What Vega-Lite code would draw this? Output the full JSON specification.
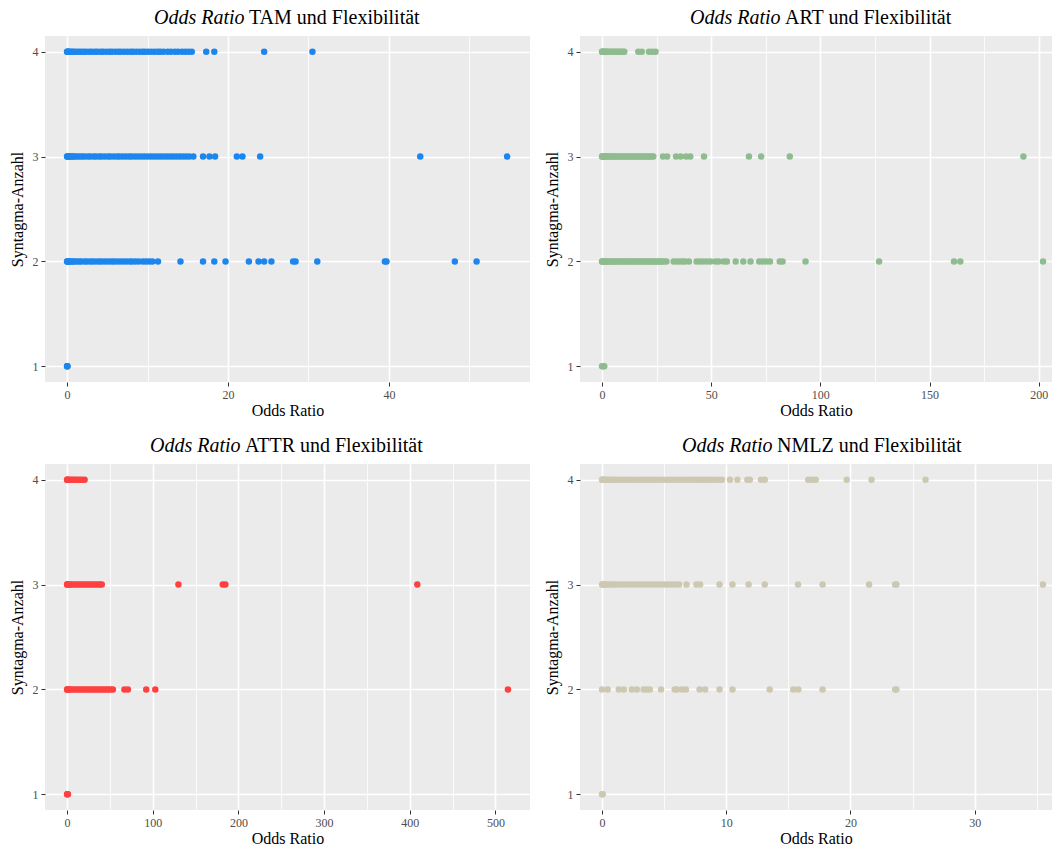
{
  "$schema": "https://vega.github.io/schema/vega-lite/v6.json",
  "background": "white",
  "padding": {"left": 9, "top": 8, "right": 0, "bottom": 0},
  "columns": 2,
  "spacing": {"row": 18, "column": 14},
  "config": {
    "font": "Liberation Serif",
    "view": {"fill": "#EBEBEB", "stroke": null},
    "axis": {
      "domain": false,
      "gridColor": "#FFFFFF",
      "tickColor": "#333333",
      "tickSize": 4,
      "labelColor": "#4D4D4D",
      "labelFont": "Liberation Serif",
      "labelFontSize": 12,
      "labelPadding": 3,
      "labelOverlap": false,
      "labelFlush": false,
      "titleFont": "Liberation Serif",
      "titleFontSize": 16,
      "titleFontWeight": "normal",
      "titleColor": "#000000",
      "titlePadding": 2
    },
    "title": {
      "font": "Liberation Serif",
      "fontSize": 20,
      "fontWeight": "normal",
      "fontStyle": "italic",
      "color": "#000000",
      "subtitleFont": "Liberation Serif",
      "subtitleFontSize": 20,
      "subtitleFontStyle": "normal",
      "subtitleFontWeight": "normal",
      "subtitleColor": "#000000",
      "subtitlePadding": -20,
      "anchor": "start",
      "frame": "group",
      "offset": 8
    }
  },
  "datasets": {
    "tam": [
      {"x":0,"y":4},{"x":0.05,"y":4},{"x":0.1,"y":4},{"x":0.2,"y":4},{"x":0.35,"y":4},{"x":0.5,"y":4},{"x":0.7,"y":4},{"x":0.9,"y":4},{"x":1.2,"y":4},{"x":1.5,"y":4},{"x":1.8,"y":4},{"x":2.1,"y":4},{"x":2.4,"y":4},{"x":2.8,"y":4},{"x":3.1,"y":4},{"x":3.5,"y":4},{"x":3.8,"y":4},{"x":4.2,"y":4},{"x":4.5,"y":4},{"x":4.9,"y":4},{"x":5.3,"y":4},{"x":5.6,"y":4},{"x":6.0,"y":4},{"x":6.4,"y":4},{"x":6.7,"y":4},{"x":7.1,"y":4},{"x":7.5,"y":4},{"x":7.9,"y":4},{"x":8.2,"y":4},{"x":8.6,"y":4},{"x":9.0,"y":4},{"x":9.4,"y":4},{"x":9.7,"y":4},{"x":10.1,"y":4},{"x":10.5,"y":4},{"x":10.9,"y":4},{"x":11.3,"y":4},{"x":11.6,"y":4},{"x":12.0,"y":4},{"x":12.5,"y":4},{"x":12.9,"y":4},{"x":13.4,"y":4},{"x":13.8,"y":4},{"x":14.3,"y":4},{"x":14.7,"y":4},{"x":15.1,"y":4},{"x":15.5,"y":4},{"x":17.3,"y":4},{"x":18.3,"y":4},{"x":24.5,"y":4},{"x":30.5,"y":4},
      {"x":0,"y":3},{"x":0.05,"y":3},{"x":0.1,"y":3},{"x":0.2,"y":3},{"x":0.3,"y":3},{"x":0.45,"y":3},{"x":0.6,"y":3},{"x":0.8,"y":3},{"x":1.0,"y":3},{"x":1.3,"y":3},{"x":1.6,"y":3},{"x":1.9,"y":3},{"x":2.2,"y":3},{"x":2.6,"y":3},{"x":2.9,"y":3},{"x":3.3,"y":3},{"x":3.6,"y":3},{"x":4.0,"y":3},{"x":4.3,"y":3},{"x":4.7,"y":3},{"x":5.1,"y":3},{"x":5.4,"y":3},{"x":5.8,"y":3},{"x":6.2,"y":3},{"x":6.5,"y":3},{"x":6.9,"y":3},{"x":7.3,"y":3},{"x":7.7,"y":3},{"x":8.0,"y":3},{"x":8.4,"y":3},{"x":8.8,"y":3},{"x":9.2,"y":3},{"x":9.6,"y":3},{"x":10.0,"y":3},{"x":10.4,"y":3},{"x":10.8,"y":3},{"x":11.2,"y":3},{"x":11.6,"y":3},{"x":12.0,"y":3},{"x":12.4,"y":3},{"x":12.8,"y":3},{"x":13.2,"y":3},{"x":13.6,"y":3},{"x":14.0,"y":3},{"x":14.4,"y":3},{"x":14.8,"y":3},{"x":15.2,"y":3},{"x":15.7,"y":3},{"x":16.9,"y":3},{"x":17.7,"y":3},{"x":18.4,"y":3},{"x":21.1,"y":3},{"x":21.8,"y":3},{"x":24.0,"y":3},{"x":43.9,"y":3},{"x":54.7,"y":3},
      {"x":0,"y":2},{"x":0.05,"y":2},{"x":0.1,"y":2},{"x":0.2,"y":2},{"x":0.3,"y":2},{"x":0.5,"y":2},{"x":0.7,"y":2},{"x":0.9,"y":2},{"x":1.2,"y":2},{"x":1.5,"y":2},{"x":1.8,"y":2},{"x":2.2,"y":2},{"x":2.5,"y":2},{"x":2.9,"y":2},{"x":3.2,"y":2},{"x":3.6,"y":2},{"x":4.0,"y":2},{"x":4.3,"y":2},{"x":4.7,"y":2},{"x":5.1,"y":2},{"x":5.5,"y":2},{"x":5.8,"y":2},{"x":6.2,"y":2},{"x":6.6,"y":2},{"x":7.0,"y":2},{"x":7.4,"y":2},{"x":7.8,"y":2},{"x":8.1,"y":2},{"x":8.5,"y":2},{"x":8.9,"y":2},{"x":9.4,"y":2},{"x":9.8,"y":2},{"x":10.2,"y":2},{"x":10.6,"y":2},{"x":11.3,"y":2},{"x":14.1,"y":2},{"x":16.9,"y":2},{"x":18.3,"y":2},{"x":19.7,"y":2},{"x":22.6,"y":2},{"x":23.8,"y":2},{"x":24.5,"y":2},{"x":25.4,"y":2},{"x":28.1,"y":2},{"x":28.4,"y":2},{"x":31.1,"y":2},{"x":39.5,"y":2},{"x":39.7,"y":2},{"x":48.2,"y":2},{"x":50.9,"y":2},
      {"x":0,"y":1},{"x":0.02,"y":1},{"x":0.05,"y":1}
    ],
    "art": [
      {"x":0,"y":4},{"x":0.1,"y":4},{"x":0.3,"y":4},{"x":0.6,"y":4},{"x":1.0,"y":4},{"x":1.5,"y":4},{"x":2.0,"y":4},{"x":2.6,"y":4},{"x":3.2,"y":4},{"x":3.8,"y":4},{"x":4.5,"y":4},{"x":5.2,"y":4},{"x":5.9,"y":4},{"x":6.6,"y":4},{"x":7.4,"y":4},{"x":8.2,"y":4},{"x":9.0,"y":4},{"x":9.7,"y":4},{"x":10.2,"y":4},{"x":16.6,"y":4},{"x":18.2,"y":4},{"x":21.5,"y":4},{"x":23.0,"y":4},{"x":24.5,"y":4},
      {"x":0,"y":3},{"x":0.1,"y":3},{"x":0.3,"y":3},{"x":0.6,"y":3},{"x":1.0,"y":3},{"x":1.5,"y":3},{"x":2.0,"y":3},{"x":2.6,"y":3},{"x":3.2,"y":3},{"x":3.9,"y":3},{"x":4.6,"y":3},{"x":5.3,"y":3},{"x":6.0,"y":3},{"x":6.8,"y":3},{"x":7.6,"y":3},{"x":8.4,"y":3},{"x":9.2,"y":3},{"x":10.0,"y":3},{"x":10.8,"y":3},{"x":11.6,"y":3},{"x":12.4,"y":3},{"x":13.2,"y":3},{"x":14.0,"y":3},{"x":14.8,"y":3},{"x":15.6,"y":3},{"x":16.4,"y":3},{"x":17.2,"y":3},{"x":18.0,"y":3},{"x":18.8,"y":3},{"x":19.6,"y":3},{"x":20.4,"y":3},{"x":21.2,"y":3},{"x":22.0,"y":3},{"x":22.8,"y":3},{"x":23.5,"y":3},{"x":27.9,"y":3},{"x":29.8,"y":3},{"x":33.9,"y":3},{"x":36.0,"y":3},{"x":38.5,"y":3},{"x":40.4,"y":3},{"x":46.7,"y":3},{"x":67.3,"y":3},{"x":72.9,"y":3},{"x":86.0,"y":3},{"x":193.0,"y":3},
      {"x":0,"y":2},{"x":0.1,"y":2},{"x":0.3,"y":2},{"x":0.6,"y":2},{"x":1.0,"y":2},{"x":1.5,"y":2},{"x":2.0,"y":2},{"x":2.6,"y":2},{"x":3.2,"y":2},{"x":3.9,"y":2},{"x":4.6,"y":2},{"x":5.3,"y":2},{"x":6.0,"y":2},{"x":6.8,"y":2},{"x":7.6,"y":2},{"x":8.4,"y":2},{"x":9.2,"y":2},{"x":10.0,"y":2},{"x":10.8,"y":2},{"x":11.6,"y":2},{"x":12.4,"y":2},{"x":13.2,"y":2},{"x":14.0,"y":2},{"x":14.8,"y":2},{"x":15.6,"y":2},{"x":16.4,"y":2},{"x":17.2,"y":2},{"x":18.0,"y":2},{"x":18.8,"y":2},{"x":19.6,"y":2},{"x":20.4,"y":2},{"x":21.2,"y":2},{"x":22.0,"y":2},{"x":22.8,"y":2},{"x":23.6,"y":2},{"x":24.4,"y":2},{"x":25.2,"y":2},{"x":26.0,"y":2},{"x":26.8,"y":2},{"x":27.6,"y":2},{"x":28.4,"y":2},{"x":29.5,"y":2},{"x":32.8,"y":2},{"x":34.2,"y":2},{"x":35.6,"y":2},{"x":37.0,"y":2},{"x":38.0,"y":2},{"x":39.8,"y":2},{"x":43.3,"y":2},{"x":44.8,"y":2},{"x":46.4,"y":2},{"x":48.0,"y":2},{"x":49.7,"y":2},{"x":52.0,"y":2},{"x":53.4,"y":2},{"x":55.7,"y":2},{"x":57.2,"y":2},{"x":61.2,"y":2},{"x":64.7,"y":2},{"x":68.0,"y":2},{"x":72.0,"y":2},{"x":73.6,"y":2},{"x":75.2,"y":2},{"x":76.9,"y":2},{"x":81.4,"y":2},{"x":82.7,"y":2},{"x":93.2,"y":2},{"x":126.9,"y":2},{"x":161.2,"y":2},{"x":164.1,"y":2},{"x":202.0,"y":2},
      {"x":0,"y":1},{"x":0.5,"y":1},{"x":1.0,"y":1}
    ],
    "attr": [
      {"x":0,"y":4},{"x":0.3,"y":4},{"x":1,"y":4},{"x":2,"y":4},{"x":4,"y":4},{"x":6,"y":4},{"x":8,"y":4},{"x":10,"y":4},{"x":12.5,"y":4},{"x":15,"y":4},{"x":17.5,"y":4},{"x":20.5,"y":4},
      {"x":0,"y":3},{"x":0.3,"y":3},{"x":1,"y":3},{"x":2,"y":3},{"x":4,"y":3},{"x":6,"y":3},{"x":8.5,"y":3},{"x":11,"y":3},{"x":13.5,"y":3},{"x":16,"y":3},{"x":18.5,"y":3},{"x":21,"y":3},{"x":23.5,"y":3},{"x":26,"y":3},{"x":28.5,"y":3},{"x":31,"y":3},{"x":33.5,"y":3},{"x":36,"y":3},{"x":38.5,"y":3},{"x":40.5,"y":3},{"x":130.0,"y":3},{"x":181.7,"y":3},{"x":184.8,"y":3},{"x":408.8,"y":3},
      {"x":0,"y":2},{"x":0.3,"y":2},{"x":1,"y":2},{"x":2,"y":2},{"x":4,"y":2},{"x":6,"y":2},{"x":8.5,"y":2},{"x":11,"y":2},{"x":13.5,"y":2},{"x":16,"y":2},{"x":18.5,"y":2},{"x":21,"y":2},{"x":23.5,"y":2},{"x":26,"y":2},{"x":28.5,"y":2},{"x":31,"y":2},{"x":33.5,"y":2},{"x":36,"y":2},{"x":38.5,"y":2},{"x":41,"y":2},{"x":43.5,"y":2},{"x":46,"y":2},{"x":48.5,"y":2},{"x":51,"y":2},{"x":53.5,"y":2},{"x":67.0,"y":2},{"x":71.0,"y":2},{"x":92.4,"y":2},{"x":103.0,"y":2},{"x":514.6,"y":2},
      {"x":0,"y":1},{"x":0.5,"y":1},{"x":1,"y":1}
    ],
    "nmlz": [
      {"x":0,"y":4},{"x":0.02,"y":4},{"x":0.05,"y":4},{"x":0.1,"y":4},{"x":0.2,"y":4},{"x":0.3,"y":4},{"x":0.45,"y":4},{"x":0.6,"y":4},{"x":0.8,"y":4},{"x":1.0,"y":4},{"x":1.25,"y":4},{"x":1.5,"y":4},{"x":1.75,"y":4},{"x":2.0,"y":4},{"x":2.25,"y":4},{"x":2.5,"y":4},{"x":2.8,"y":4},{"x":3.1,"y":4},{"x":3.4,"y":4},{"x":3.7,"y":4},{"x":4.0,"y":4},{"x":4.3,"y":4},{"x":4.6,"y":4},{"x":4.9,"y":4},{"x":5.2,"y":4},{"x":5.5,"y":4},{"x":5.8,"y":4},{"x":6.1,"y":4},{"x":6.4,"y":4},{"x":6.7,"y":4},{"x":7.0,"y":4},{"x":7.3,"y":4},{"x":7.6,"y":4},{"x":7.9,"y":4},{"x":8.2,"y":4},{"x":8.5,"y":4},{"x":8.8,"y":4},{"x":9.1,"y":4},{"x":9.4,"y":4},{"x":9.65,"y":4},{"x":10.3,"y":4},{"x":10.9,"y":4},{"x":11.7,"y":4},{"x":11.9,"y":4},{"x":12.8,"y":4},{"x":13.1,"y":4},{"x":16.6,"y":4},{"x":16.9,"y":4},{"x":17.2,"y":4},{"x":19.7,"y":4},{"x":21.7,"y":4},{"x":26.05,"y":4},
      {"x":0,"y":3},{"x":0.05,"y":3},{"x":0.1,"y":3},{"x":0.2,"y":3},{"x":0.35,"y":3},{"x":0.5,"y":3},{"x":0.7,"y":3},{"x":0.9,"y":3},{"x":1.15,"y":3},{"x":1.4,"y":3},{"x":1.7,"y":3},{"x":2.0,"y":3},{"x":2.3,"y":3},{"x":2.6,"y":3},{"x":2.9,"y":3},{"x":3.2,"y":3},{"x":3.5,"y":3},{"x":3.8,"y":3},{"x":4.1,"y":3},{"x":4.4,"y":3},{"x":4.7,"y":3},{"x":5.0,"y":3},{"x":5.3,"y":3},{"x":5.6,"y":3},{"x":5.9,"y":3},{"x":6.2,"y":3},{"x":6.8,"y":3},{"x":7.6,"y":3},{"x":7.9,"y":3},{"x":9.46,"y":3},{"x":10.5,"y":3},{"x":11.8,"y":3},{"x":13.1,"y":3},{"x":15.78,"y":3},{"x":17.76,"y":3},{"x":21.5,"y":3},{"x":23.6,"y":3},{"x":23.7,"y":3},{"x":35.5,"y":3},
      {"x":0,"y":2},{"x":0.45,"y":2},{"x":1.35,"y":2},{"x":1.75,"y":2},{"x":2.4,"y":2},{"x":2.8,"y":2},{"x":3.35,"y":2},{"x":3.6,"y":2},{"x":3.85,"y":2},{"x":4.75,"y":2},{"x":5.85,"y":2},{"x":6.05,"y":2},{"x":6.45,"y":2},{"x":6.75,"y":2},{"x":7.85,"y":2},{"x":8.3,"y":2},{"x":9.46,"y":2},{"x":10.5,"y":2},{"x":13.5,"y":2},{"x":15.4,"y":2},{"x":15.8,"y":2},{"x":17.76,"y":2},{"x":23.6,"y":2},{"x":23.7,"y":2},
      {"x":0,"y":1},{"x":0.05,"y":1}
    ]
  },
  "concat": [
    {
      "width": 485, "height": 346,
      "title": {"text": "Odds Ratio", "subtitle": "\u200b\u00a0\u00a0\u00a0\u00a0\u00a0\u00a0\u00a0\u00a0\u00a0\u00a0\u00a0\u00a0\u00a0\u00a0\u00a0\u00a0\u00a0\u00a0\u00a0TAM und Flexibilität", "dx": 109},
      "data": {"name": "tam"},
      "mark": {"type": "circle", "size": 42, "opacity": 1, "color": "#1C86EE"},
      "encoding": {
        "x": {"field": "x", "type": "quantitative", "scale": {"domain": [-2.74, 57.54], "nice": false, "zero": false},
          "axis": {"title": "Odds Ratio", "values": [0, 10, 20, 30, 40, 50], "labelExpr": "datum.value % 20 === 0 ? datum.label : ''",
            "gridWidth": {"condition": {"test": "datum.value % 20 === 0", "value": 1.6}, "value": 0.8},
            "tickOpacity": {"condition": {"test": "datum.value % 20 === 0", "value": 1}, "value": 0}}},
        "y": {"field": "y", "type": "quantitative", "scale": {"domain": [0.85, 4.15], "nice": false, "zero": false},
          "axis": {"title": "Syntagma-Anzahl", "values": [1, 1.5, 2, 2.5, 3, 3.5, 4], "format": "d", "labelExpr": "datum.value % 1 === 0 ? datum.label : ''",
            "gridWidth": {"condition": {"test": "datum.value % 1 === 0", "value": 1.6}, "value": 0.8},
            "tickOpacity": {"condition": {"test": "datum.value % 1 === 0", "value": 1}, "value": 0}, "titlePadding": 7}}
      }
    },
    {
      "width": 472, "height": 346,
      "title": {"text": "Odds Ratio", "subtitle": "\u200b\u00a0\u00a0\u00a0\u00a0\u00a0\u00a0\u00a0\u00a0\u00a0\u00a0\u00a0\u00a0\u00a0\u00a0\u00a0\u00a0\u00a0\u00a0\u00a0ART und Flexibilität", "dx": 110},
      "data": {"name": "art"},
      "mark": {"type": "circle", "size": 42, "opacity": 1, "color": "#8FBC8F"},
      "encoding": {
        "x": {"field": "x", "type": "quantitative", "scale": {"domain": [-10.1, 206.1], "nice": false, "zero": false},
          "axis": {"title": "Odds Ratio", "values": [0, 25, 50, 75, 100, 125, 150, 175, 200], "labelExpr": "datum.value % 50 === 0 ? datum.label : ''",
            "gridWidth": {"condition": {"test": "datum.value % 50 === 0", "value": 1.6}, "value": 0.8},
            "tickOpacity": {"condition": {"test": "datum.value % 50 === 0", "value": 1}, "value": 0}}},
        "y": {"field": "y", "type": "quantitative", "scale": {"domain": [0.85, 4.15], "nice": false, "zero": false},
          "axis": {"title": "Syntagma-Anzahl", "values": [1, 1.5, 2, 2.5, 3, 3.5, 4], "format": "d", "labelExpr": "datum.value % 1 === 0 ? datum.label : ''",
            "gridWidth": {"condition": {"test": "datum.value % 1 === 0", "value": 1.6}, "value": 0.8},
            "tickOpacity": {"condition": {"test": "datum.value % 1 === 0", "value": 1}, "value": 0}, "titlePadding": 7}}
      }
    },
    {
      "width": 485, "height": 346,
      "title": {"text": "Odds Ratio", "subtitle": "\u200b\u00a0\u00a0\u00a0\u00a0\u00a0\u00a0\u00a0\u00a0\u00a0\u00a0\u00a0\u00a0\u00a0\u00a0\u00a0\u00a0\u00a0\u00a0\u00a0ATTR und Flexibilität", "dx": 105},
      "data": {"name": "attr"},
      "mark": {"type": "circle", "size": 42, "opacity": 1, "color": "#FF4040"},
      "encoding": {
        "x": {"field": "x", "type": "quantitative", "scale": {"domain": [-25.73, 540.33], "nice": false, "zero": false},
          "axis": {"title": "Odds Ratio", "values": [0, 50, 100, 150, 200, 250, 300, 350, 400, 450, 500], "labelExpr": "datum.value % 100 === 0 ? datum.label : ''",
            "gridWidth": {"condition": {"test": "datum.value % 100 === 0", "value": 1.6}, "value": 0.8},
            "tickOpacity": {"condition": {"test": "datum.value % 100 === 0", "value": 1}, "value": 0}}},
        "y": {"field": "y", "type": "quantitative", "scale": {"domain": [0.85, 4.15], "nice": false, "zero": false},
          "axis": {"title": "Syntagma-Anzahl", "values": [1, 1.5, 2, 2.5, 3, 3.5, 4], "format": "d", "labelExpr": "datum.value % 1 === 0 ? datum.label : ''",
            "gridWidth": {"condition": {"test": "datum.value % 1 === 0", "value": 1.6}, "value": 0.8},
            "tickOpacity": {"condition": {"test": "datum.value % 1 === 0", "value": 1}, "value": 0}, "titlePadding": 7}}
      }
    },
    {
      "width": 472, "height": 346,
      "title": {"text": "Odds Ratio", "subtitle": "\u200b\u00a0\u00a0\u00a0\u00a0\u00a0\u00a0\u00a0\u00a0\u00a0\u00a0\u00a0\u00a0\u00a0\u00a0\u00a0\u00a0\u00a0\u00a0\u00a0NMLZ und Flexibilität", "dx": 102},
      "data": {"name": "nmlz"},
      "mark": {"type": "circle", "size": 42, "opacity": 1, "color": "#CDC8B1"},
      "encoding": {
        "x": {"field": "x", "type": "quantitative", "scale": {"domain": [-1.775, 36.23], "nice": false, "zero": false},
          "axis": {"title": "Odds Ratio", "values": [0, 5, 10, 15, 20, 25, 30, 35], "labelExpr": "datum.value % 10 === 0 ? datum.label : ''",
            "gridWidth": {"condition": {"test": "datum.value % 10 === 0", "value": 1.6}, "value": 0.8},
            "tickOpacity": {"condition": {"test": "datum.value % 10 === 0", "value": 1}, "value": 0}}},
        "y": {"field": "y", "type": "quantitative", "scale": {"domain": [0.85, 4.15], "nice": false, "zero": false},
          "axis": {"title": "Syntagma-Anzahl", "values": [1, 1.5, 2, 2.5, 3, 3.5, 4], "format": "d", "labelExpr": "datum.value % 1 === 0 ? datum.label : ''",
            "gridWidth": {"condition": {"test": "datum.value % 1 === 0", "value": 1.6}, "value": 0.8},
            "tickOpacity": {"condition": {"test": "datum.value % 1 === 0", "value": 1}, "value": 0}, "titlePadding": 7}}
      }
    }
  ]
}
